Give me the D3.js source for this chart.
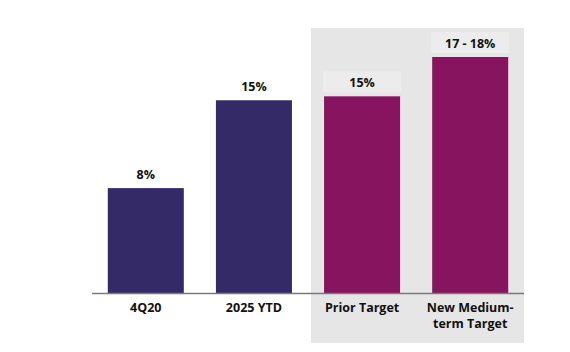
<!DOCTYPE html>
<html>
<head>
<meta charset="utf-8">
<script src="https://cdn.jsdelivr.net/npm/d3@7"></script>
<style>
  body { margin: 0; background: #fff; }
  text { font-family: "Open Sans", "DejaVu Sans", sans-serif; font-weight: 700; fill: #111; }
</style>
</head>
<body>
<script>
let categories = ['4Q20', '2025 YTD', 'Prior Target', 'New Medium-term Target']
let catLines = [['4Q20'], ['2025 YTD'], ['Prior Target'], ['New Medium-', 'term Target']]
let values = [8, 14.7, 15, 18]
let valueLabels = ['8%', '15%', '15%', '17 - 18%']
let targetGroup = [false, false, true, true]

let width = 570
let height = 352
const margin = { top: 57, right: 46, bottom: 59, left: 92 };
let plotWidth = width - margin.left - margin.right;
let plotHeight = height - margin.top - margin.bottom;

let svg = d3.select('body').append('svg')
    .attr('width', width)
    .attr('height', height);

let x = d3.scaleBand().domain(categories).range([0, plotWidth]).paddingInner(0.297).paddingOuter(0.146)
let y = d3.scaleLinear().domain([0, 18]).range([plotHeight, 0])

let plot = svg.append('g').attr('transform', `translate(${margin.left},${margin.top})`);

// grey panel behind the targets
let step = x.step()
let firstT = x(categories[2]) - (step - x.bandwidth()) / 2 + 3
plot.append('rect')
    .attr('x', firstT)
    .attr('y', -29)
    .attr('width', plotWidth - firstT)
    .attr('height', 315)
    .attr('fill', '#e6e6e6')

let data = categories.map((c, i) => ({ c, v: values[i], lab: valueLabels[i], t: targetGroup[i], lines: catLines[i] }))

// lighter boxes behind target labels
plot.selectAll('rect.labbox').data(data.filter(d => d.t))
    .join('rect')
    .attr('class', 'labbox')
    .attr('x', d => x(d.c) - 1)
    .attr('y', d => y(d.v) - 25)
    .attr('width', x.bandwidth() + 2)
    .attr('height', 21)
    .attr('fill', '#ececec')

plot.selectAll('rect.bar').data(data)
    .join('rect')
    .attr('class', 'bar')
    .attr('x', d => x(d.c))
    .attr('y', d => y(d.v))
    .attr('width', x.bandwidth())
    .attr('height', d => plotHeight - y(d.v))
    .attr('fill', d => d.t ? '#86145f' : '#342a68')

plot.selectAll('text.val').data(data)
    .join('text')
    .attr('class', 'val')
    .attr('x', d => x(d.c) + x.bandwidth() / 2)
    .attr('y', d => y(d.v) - 9)
    .attr('text-anchor', 'middle')
    .style('font-size', '12.5px')
    .text(d => d.lab)

// baseline
plot.append('line')
    .attr('x1', 0).attr('x2', plotWidth)
    .attr('y1', plotHeight + 0.5).attr('y2', plotHeight + 0.5)
    .attr('stroke', '#7a7a7a').attr('stroke-width', 1.3)

let cat = plot.selectAll('text.cat').data(data)
    .join('text')
    .attr('class', 'cat')
    .attr('x', d => x(d.c) + x.bandwidth() / 2)
    .attr('y', plotHeight + 19)
    .attr('text-anchor', 'middle')
    .style('font-size', '12.5px')

cat.selectAll('tspan').data(d => d.lines.map(l => ({ l, x: x(d.c) + x.bandwidth() / 2 })))
    .join('tspan')
    .attr('x', d => d.x)
    .attr('dy', (d, i) => i === 0 ? 0 : 16)
    .text(d => d.l)
</script>
</body>
</html>
